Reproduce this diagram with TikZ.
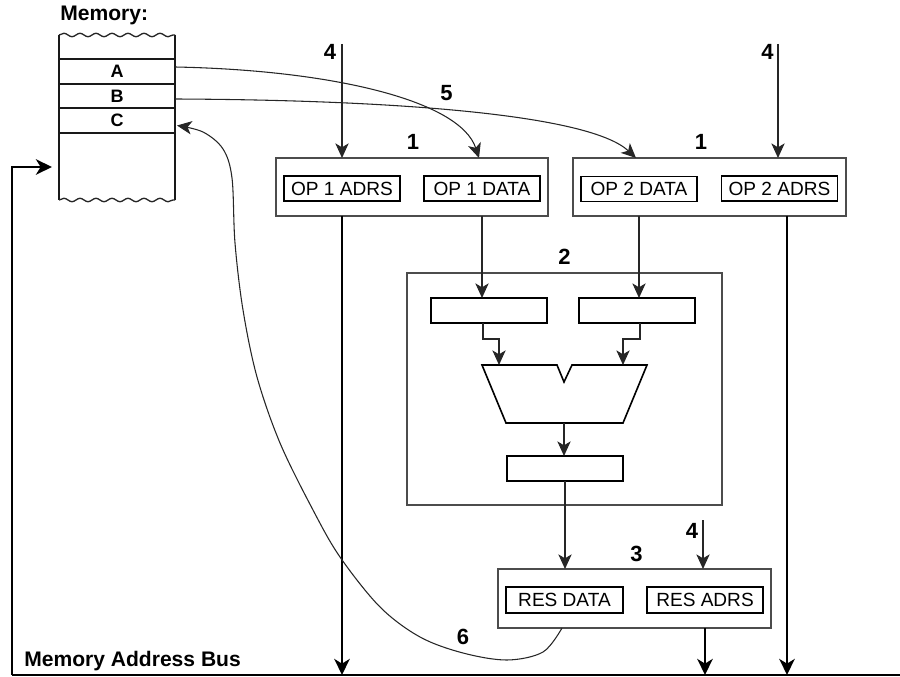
\documentclass[tikz,border=0pt]{standalone}
\usepackage{fontspec}
\setmainfont{Liberation Sans}
\usetikzlibrary{arrows.meta,decorations.pathmorphing,calc}
\begin{document}
\begin{tikzpicture}[x=0.75pt,y=-0.75pt,
  outerbox/.style={draw=black!70,line width=0.9pt,inner sep=0,outer sep=0,minimum width=204pt,minimum height=43.5pt},
  regbox/.style={draw=black,line width=1.2pt,inner sep=0,outer sep=0,minimum width=87pt,minimum height=18.75pt,font=\fontsize{14.3}{15}\selectfont},
  cell/.style={inner sep=0,outer sep=0,minimum width=87pt,minimum height=18pt,font=\fontsize{13.5}{14}\selectfont\bfseries},
  num/.style={font=\fontsize{16.5}{17}\selectfont\bfseries,inner sep=0},
  lbl/.style={font=\fontsize{15.8}{16}\selectfont\bfseries,inner sep=0,anchor=base west},
  arr/.style={line width=0.8pt,draw=black!85,-{Stealth[length=11pt,width=10pt,inset=3pt]}},
  busarr/.style={line width=2.2pt,-{Stealth[length=12pt,width=11.5pt,inset=3.5pt]}},
  memline/.style={line width=1.1pt,draw=black!90},
  wavy/.style={line width=1pt,draw=black!85,decorate,decoration={snake,amplitude=1.3pt,segment length=12pt}},
]
\useasboundingbox (0,0) rectangle (900,677);

% ---- memory ----
\draw[memline] (59,35) -- (59,200) (175,35) -- (175,200);
\draw[wavy] (59,35) -- (175,35);
\draw[wavy] (59,200) -- (175,200);
\draw[memline] (59,59) -- (175,59) (59,84) -- (175,84) (59,108) -- (175,108) (59,133) -- (175,133);
\node[lbl] (memlabel) at (60,21) {Memory:};
\node[cell] (memA) at (117,71.5) {A};
\node[cell] (memB) at (117,96) {B};
\node[cell] (memC) at (117,120.5) {C};
\coordinate (memin) at (52,167);

% ---- operand boxes ----
\node[outerbox] (b1L) at (412,187) {};
\node[outerbox,minimum width=204.75pt] (b1R) at (709.5,187) {};
\node[regbox] (op1a) at (342,188.5) {OP 1 ADRS};
\node[regbox] (op1d) at (482,188.5) {OP 1 DATA};
\node[regbox] (op2d) at (639,189) {OP 2 DATA};
\node[regbox] (op2a) at (779.5,188.5) {OP 2 ADRS};

% ---- ALU box ----
\node[outerbox,minimum width=236.25pt,minimum height=174pt] (b2) at (564.5,389) {};
\node[regbox] (regL) at (489,310.5) {};
\node[regbox] (regR) at (637,310.5) {};
\node[regbox] (regO) at (565,468.5) {};
\draw[line width=1.2pt,line join=miter] (482,365) -- (557,365) -- (564,382) -- (572,365) -- (647,365) -- (623,423) -- (506,423) -- cycle;
\coordinate (aluL) at (499,365);
\coordinate (aluR) at (623,365);
\coordinate (aluO) at (564,423);

% ---- result box ----
\node[outerbox,minimum width=204.75pt,minimum height=44.25pt] (b3) at (634.5,598.5) {};
\node[regbox,minimum width=87.75pt,minimum height=19.5pt] (resd) at (564.5,600) {RES DATA};
\node[regbox,minimum width=87pt,minimum height=19.5pt] (resa) at (705,600) {RES ADRS};

% ---- labels ----
\node[num] (n4a) at (330,52) {4};
\node[num] (n4b) at (767.5,52) {4};
\node[num] (n5) at (446.5,93) {5};
\node[num] (n1a) at (413,141.5) {1};
\node[num] (n1b) at (701,141.5) {1};
\node[num] (n2) at (564.5,257) {2};
\node[num] (n3) at (636.5,554) {3};
\node[num] (n4c) at (692,531) {4};
\node[num] (n6) at (463,637) {6};
\node[lbl] (buslabel) at (24,666) {Memory Address Bus};

% ---- address arrows (4) ----
\coordinate (s4a) at (342,44);
\coordinate (s4b) at (778,44);
\coordinate (s4c) at (703,520);
\draw[arr] (s4a) -- (s4a |- b1L.north);
\draw[arr] (s4b) -- (s4b |- b1R.north);
\draw[arr] (s4c) -- (s4c |- b3.north);

% ---- data path ----
\draw[arr] (op1d |- b1L.south) -- (op1d |- regL.north);
\draw[arr] (op2d |- b1R.south) -- (op2d |- regR.north);
\draw[arr] ($(regL.south)+(-6,0)$) -- ++(0,16) -| (aluL);
\draw[arr] ($(regR.south)+(3,0)$) -- ++(0,16) -| (aluR);
\draw[arr] (aluO) -- (aluO |- regO.north);
\draw[arr] (regO.south) -- (regO.south |- b3.north);

% ---- memory address bus ----
\coordinate (busL) at (12,675);
\coordinate (busR) at (900,675);
\draw[line width=2.2pt] (busL) -- (busR);
\draw[busarr,line join=miter] (busL) |- (memin);
\draw[busarr] (op1a |- b1L.south) -- (op1a |- busL);
\coordinate (op2bus) at ($(b1R.south)+(77.5,0)$);
\draw[busarr] (op2bus) -- (op2bus |- busL);
\draw[busarr] (resa |- b3.south) -- (resa |- busL);

% ---- memory transfers (5, 6) ----
\draw[arr] ($(memA.east)+(0,-4.5)$) .. controls (330,70) and (460,100) .. ($(op1d |- b1L.north)+(-3,0)$);
\draw[arr] ($(memB.east)+(0,3)$) .. controls (400,100) and (590,115) .. ($(op2d |- b1R.north)+(-3,0)$);
\coordinate (c6s) at (562,628);
\draw[arr] plot[smooth,tension=0.55] coordinates {(c6s) (543,652) (507,660) (463,653) (420,637) (380,607) (340,557) (313,510) (280,443) (257,377) (243,310) (235,243) (232,178) (223,149) (203,132) (177,125.5)};
\end{tikzpicture}
\end{document}
